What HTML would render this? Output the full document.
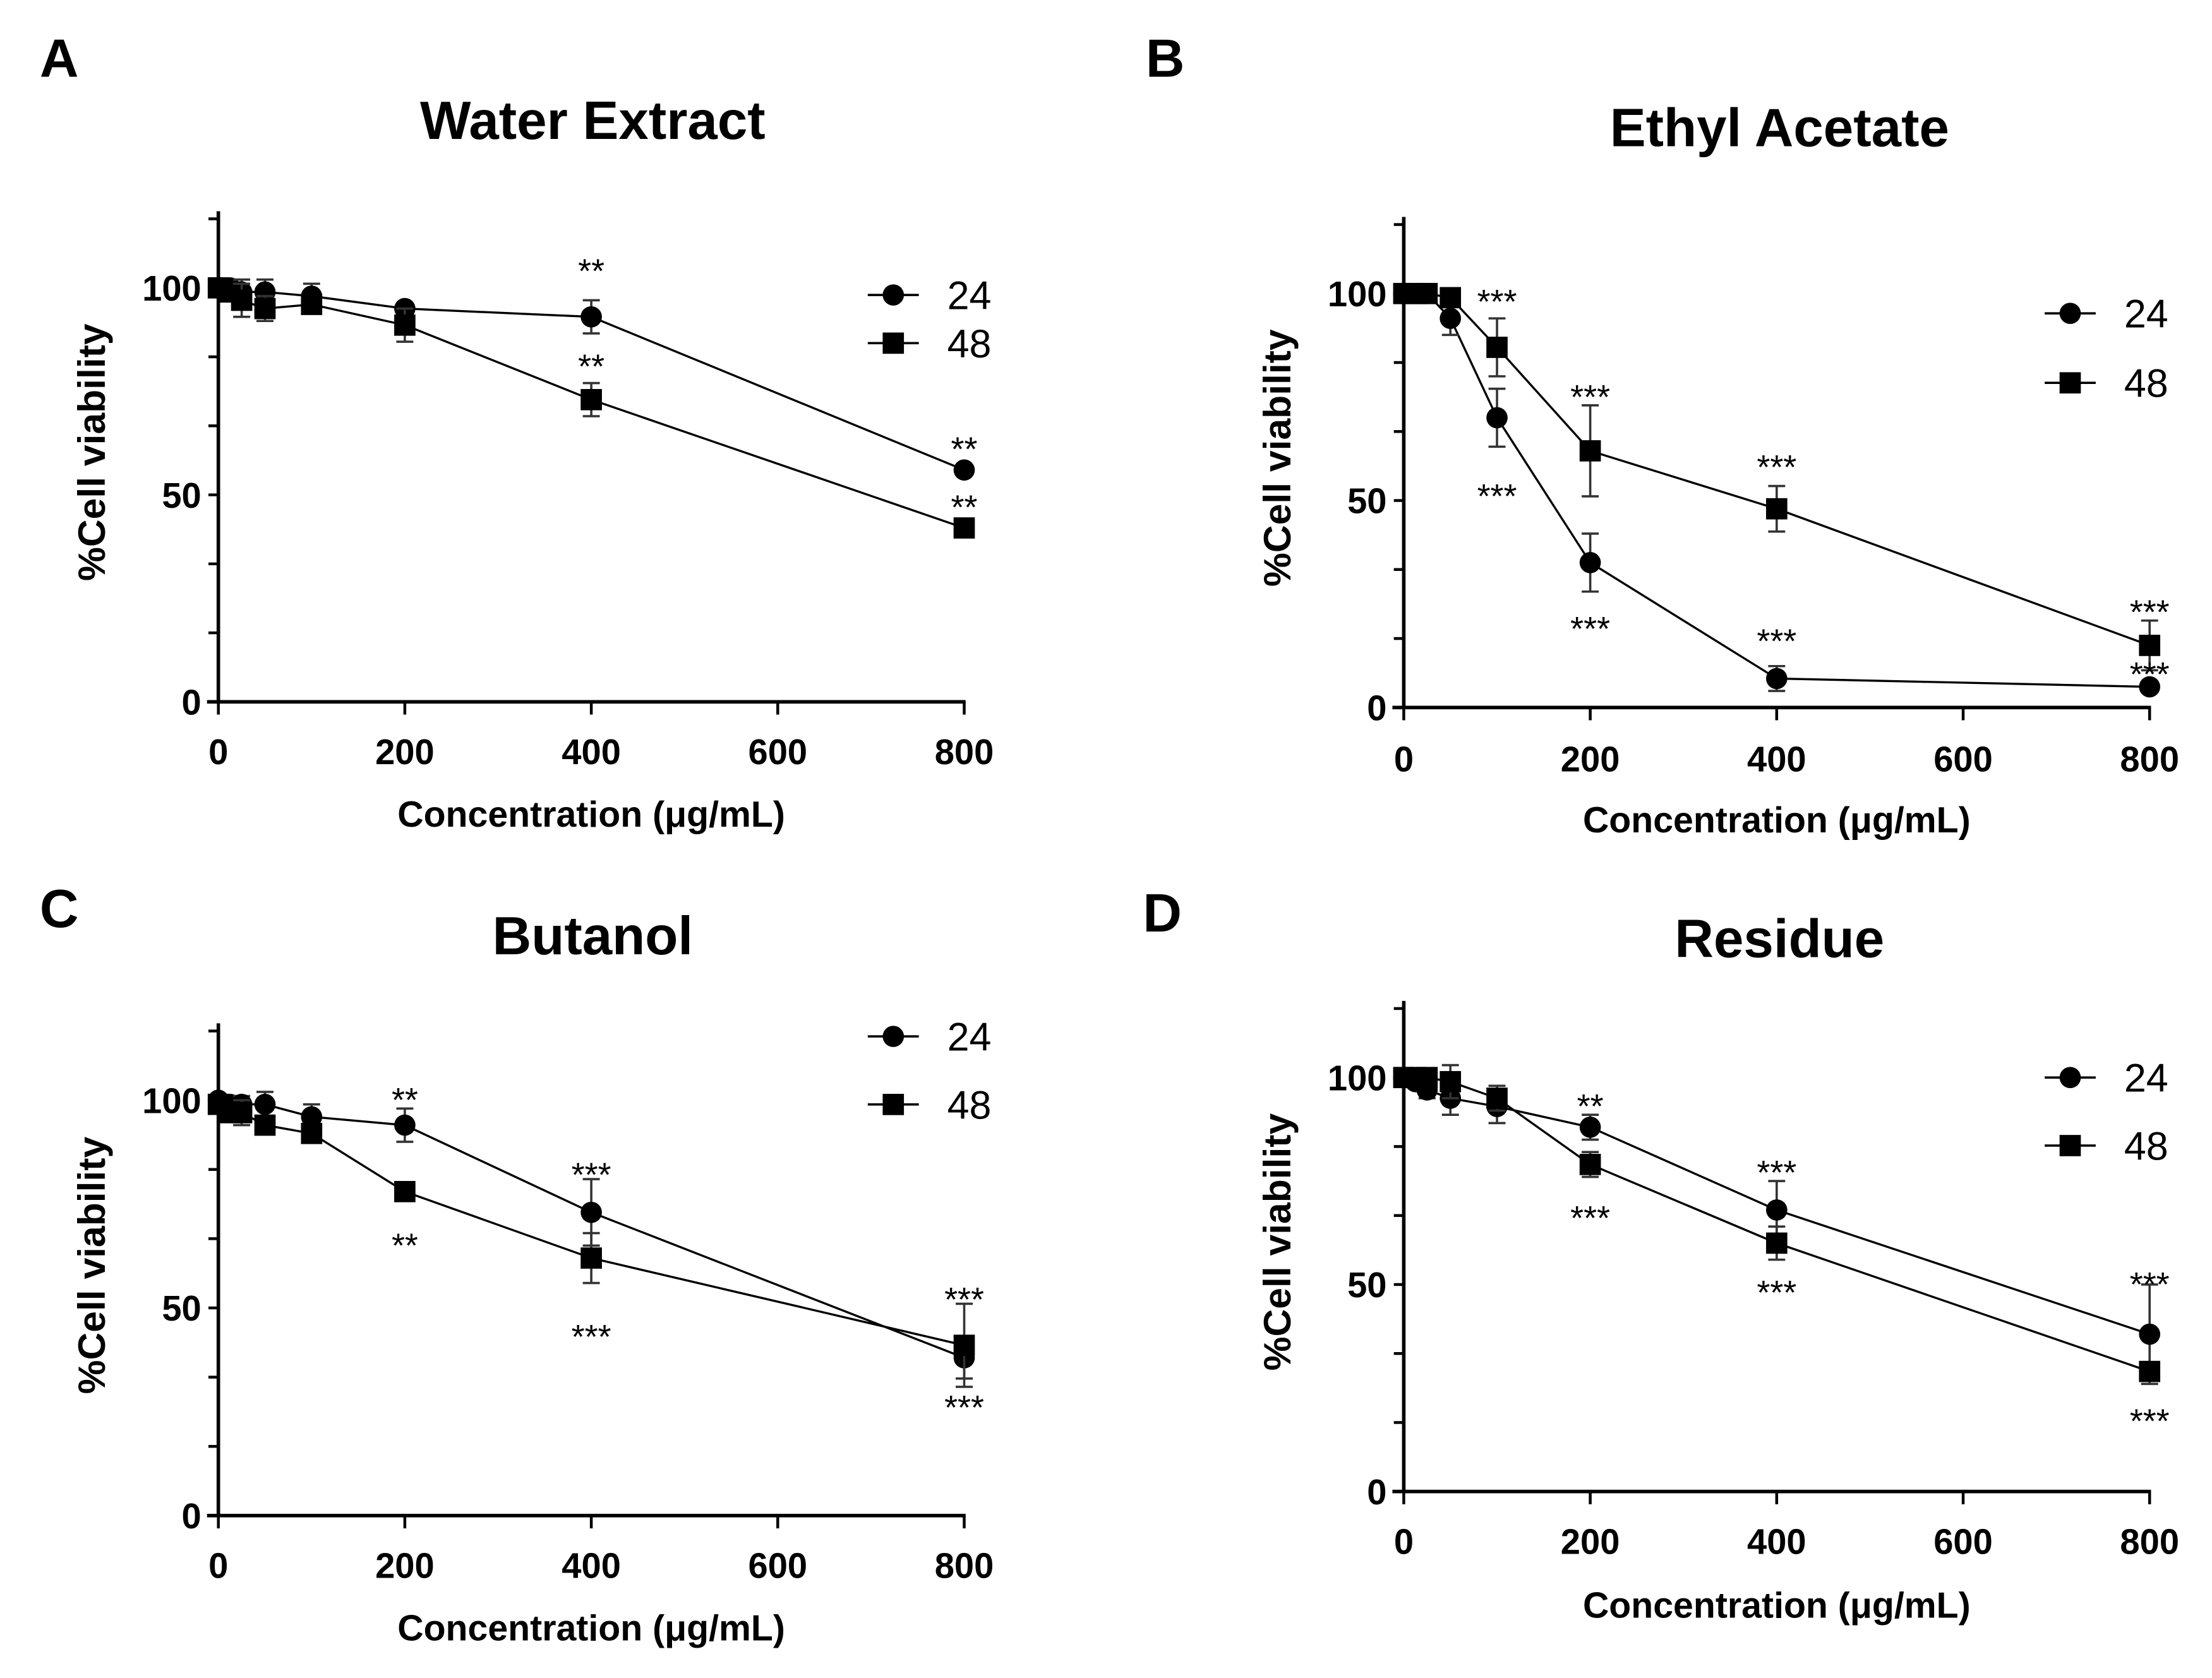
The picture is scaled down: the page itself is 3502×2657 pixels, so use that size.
<!DOCTYPE html>
<html><head><meta charset="utf-8"><style>
html,body{margin:0;padding:0;background:#fff;}
svg{display:block;}
text{font-family:"Liberation Sans",Arial,sans-serif;fill:#000;}
</style></head><body>
<svg id="fig" width="3502" height="2657" viewBox="0 0 1560 1183.5" xmlns="http://www.w3.org/2000/svg"></svg>
<script>
const xs = [0, 12.5, 25, 50, 100, 200, 400, 800];
const xTicks = [0, 200, 400, 600, 800];
const yTicks = [0, 50, 100];
const titles = ["Water Extract", "Ethyl Acetate", "Butanol", "Residue"];
const letters = ["A", "B", "C", "D"];
const a24 = [100, 100, 99, 99, 98, 95, 93, 56];
const a24e = [0, 2, 3, 3, 3, 1, 4, 1];
const a48 = [100, 99, 97, 95, 96, 91, 73, 42];
const a48e = [0, 2, 4, 3, 2, 4, 4, 2];
const b24 = [100, 100, 100, 94, 70, 35, 7, 5];
const b24e = [0, 0, 0, 4, 7, 7, 3, 1];
const b48 = [100, 100, 100, 99, 87, 62, 48, 15];
const b48e = [0, 0, 0, 1, 7, 11, 5.5, 6];
const c24 = [100, 99, 99, 99, 96, 94, 73, 38];
const c24e = [0, 2, 2, 3, 3, 4, 8, 5];
const c48 = [99, 97, 97, 94, 92, 78, 62, 41];
const c48e = [1, 2, 3, 2, 2, 2, 6, 10];
const d24 = [100, 99, 97, 95, 93, 88, 68, 38];
const d24e = [0, 1, 2, 4, 4, 3, 7, 12];
const d48 = [100, 100, 100, 99, 95, 79, 60, 29];
const d48e = [0, 1, 1, 4, 3, 3, 4, 2];
// annotations: [x, y value, label]
const annA = [[400, 105, "**"], [400, 82, "**"], [800, 62, "**"], [800, 48, "**"]];
const annB = [[100, 99, "***"], [100, 52, "***"], [200, 76, "***"], [200, 20, "***"], [400, 59, "***"], [400, 17, "***"], [800, 24, "***"], [800, 9, "***"]];
const annC = [[200, 101, "**"], [200, 66, "**"], [400, 83, "***"], [400, 44, "***"], [800, 53, "***"], [800, 27, "***"]];
const annD = [[200, 94, "**"], [200, 67, "***"], [400, 78, "***"], [400, 49, "***"], [800, 51, "***"], [800, 18, "***"]];

const NS = "http://www.w3.org/2000/svg";
const svg = document.getElementById("fig");
function el(tag, attrs, parent) {
  const e = document.createElementNS(NS, tag);
  for (const k in attrs) e.setAttribute(k, attrs[k]);
  (parent || svg).appendChild(e);
  return e;
}
const panels = [
  {x0: 154, x1: 680, y0: 495, y100: 203, tx: 418, ty: 98, lx: 28, ly: 54, leg: [630, 668, 208, 242], s: [[a24, a24e], [a48, a48e]], ann: annA, xl: 530, xt: 583},
  {x0: 990, x1: 1516, y0: 499, y100: 207, tx: 1255, ty: 103, lx: 808, ly: 54, leg: [1460, 1498, 221, 270], s: [[b24, b24e], [b48, b48e]], ann: annB, xl: 535, xt: 587},
  {x0: 154, x1: 680, y0: 1069, y100: 776, tx: 418, ty: 673, lx: 28, ly: 654, leg: [630, 668, 731, 779], s: [[c24, c24e], [c48, c48e]], ann: annC, xl: 1104, xt: 1157},
  {x0: 990, x1: 1516, y0: 1052, y100: 760, tx: 1255, ty: 675, lx: 806, ly: 657, leg: [1460, 1498, 760, 808], s: [[d24, d24e], [d48, d48e]], ann: annD, xl: 1087, xt: 1141}
];
panels.forEach((p, i) => {
  const g = el("g", {});
  
  
  const X = v => p.x0 + (p.x1 - p.x0) * v / 800;
  const Y = v => p.y0 - (p.y0 - p.y100) * v / 100;
  let t = el("text", {x: p.lx, y: p.ly, "font-size": 38, "font-weight": "bold"}, g);
  t.textContent = letters[i];
  
  
  t = el("text", {x: p.tx, y: p.ty, "font-size": 38, "font-weight": "bold", "text-anchor": "middle"}, g);
  t.textContent = titles[i];
  
  
  const ya = el("line", {x1: X(0), y1: Y(118.5), x2: X(0), y2: Y(0) + 1, stroke: "#000", "stroke-width": 2.5}, g);
  
  
  const xa = el("line", {x1: X(0) - 8, y1: Y(0), x2: X(800) + 1, y2: Y(0), stroke: "#000", "stroke-width": 2.5}, g);
  
  
  for (let k = 0; k <= 7; k++) {
    const v = k * 50 / 3;
    el("line", {x1: X(0) - 7, y1: Y(v), x2: X(0), y2: Y(v), stroke: "#000", "stroke-width": 2}, g);
  }
  yTicks.forEach(v => {
    const tl = el("text", {x: X(0) - 12, y: Y(v) + 9, "font-size": 25, "font-weight": "bold", "text-anchor": "end"}, g);
    tl.textContent = v;
    
    
  });
  xTicks.forEach(v => {
    el("line", {x1: X(v), y1: Y(0), x2: X(v), y2: Y(0) + 9, stroke: "#000", "stroke-width": 2}, g);
    const tl = el("text", {x: X(v), y: p.xl + 9, "font-size": 25, "font-weight": "bold", "text-anchor": "middle"}, g);
    tl.textContent = v;
    
    
  });
  t = el("text", {x: (X(0) + X(800)) / 2, y: p.xt, "font-size": 25.5, "font-weight": "bold", "text-anchor": "middle"}, g);
  t.textContent = "Concentration (μg/mL)";
  
  
  const ymid = Y(50);
  t = el("text", {x: 0, y: 0, "font-size": 27, "font-weight": "bold", "text-anchor": "middle", transform: `translate(${X(0) - 80},${ymid - 30}) rotate(-90)`}, g);
  t.textContent = "%Cell viability";
  
  
  p.s.forEach((ser, si) => {
    const [vals, errs] = ser;
    const sg = el("g", {}, g);
    
    
    el("polyline", {points: xs.map((x, j) => X(x) + "," + Y(vals[j])).join(" "), fill: "none", stroke: "#000", "stroke-width": 1.5}, sg);
    xs.forEach((x, j) => {
      if (errs[j] > 0) {
        const lo = Y(vals[j] - errs[j]), hi = Y(vals[j] + errs[j]);
        el("line", {x1: X(x), y1: lo, x2: X(x), y2: hi, stroke: "#333", "stroke-width": 1.6}, sg);
        el("line", {x1: X(x) - 6, y1: lo, x2: X(x) + 6, y2: lo, stroke: "#333", "stroke-width": 1.6}, sg);
        el("line", {x1: X(x) - 6, y1: hi, x2: X(x) + 6, y2: hi, stroke: "#333", "stroke-width": 1.6}, sg);
      }
      let m;
      if (si === 0) m = el("circle", {cx: X(x), cy: Y(vals[j]), r: 7.5, fill: "#000"}, sg);
      else m = el("rect", {x: X(x) - 7.5, y: Y(vals[j]) - 7.5, width: 15, height: 15, fill: "#000"}, sg);
      
      
    });
  });
  p.ann.forEach(a => {
    const at = el("text", {x: X(a[0]), y: Y(a[1]) + 11, "font-size": 24, "text-anchor": "middle"}, g);
    at.textContent = a[2];
    
    
  });
  const [mx, tx, y24, y48] = p.leg;
  const lg = el("g", {}, g);
  
  
  [[y24, "24", 0], [y48, "48", 1]].forEach(([ly, lab, si]) => {
    el("line", {x1: mx - 18, y1: ly, x2: mx + 18, y2: ly, stroke: "#000", "stroke-width": 1.6}, lg);
    if (si === 0) el("circle", {cx: mx, cy: ly, r: 7.5, fill: "#000"}, lg);
    else el("rect", {x: mx - 7.5, y: ly - 7.5, width: 15, height: 15, fill: "#000"}, lg);
    const lt = el("text", {x: tx, y: ly + 10, "font-size": 28}, lg);
    lt.textContent = lab;
    
    
  });
});
</script>
</body></html>
